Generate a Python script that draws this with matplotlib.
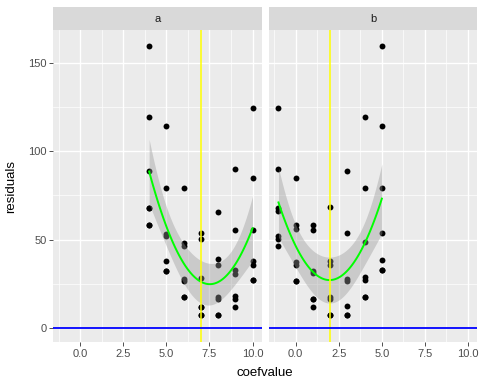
import numpy as np
import matplotlib
matplotlib.use("Agg")
from matplotlib import pyplot as plt

# data, one list pair per facet
# (7 runs per coefvalue; some points sit exactly on top of each other)
a_x = [4, 4, 4, 4, 4, 4, 4,
       5, 5, 5, 5, 5, 5, 5,
       6, 6, 6, 6, 6, 6, 6,
       7, 7, 7, 7, 7, 7, 7,
       8, 8, 8, 8, 8, 8, 8,
       9, 9, 9, 9, 9, 9, 9,
       10, 10, 10, 10, 10, 10, 10]
a_y = [159.5, 119.5, 88.9, 68.0, 68.0, 58.1, 58.1,
       114.4, 79.1, 53.2, 51.9, 38.0, 32.5, 32.5,
       79.1, 48.1, 46.2, 27.8, 26.5, 17.5, 17.5,
       53.8, 50.6, 28.4, 12.2, 12.2, 7.5, 7.5,
       65.4, 38.9, 35.9, 17.5, 16.3, 7.3, 7.3,
       90.0, 55.2, 33.1, 30.7, 18.0, 16.2, 12.1,
       124.2, 85.0, 55.2, 38.2, 35.9, 27.1, 27.1]

b_x = [-1, -1, -1, -1, -1, -1, -1,
       0, 0, 0, 0, 0, 0, 0,
       1, 1, 1, 1, 1, 1, 1,
       2, 2, 2, 2, 2, 2, 2,
       3, 3, 3, 3, 3, 3, 3,
       4, 4, 4, 4, 4, 4, 4,
       5, 5, 5, 5, 5, 5, 5]
b_y = [124.2, 90.0, 67.9, 66.0, 51.9, 50.6, 46.2,
       85.0, 58.5, 56.0, 37.4, 35.9, 26.5, 26.5,
       58.1, 55.5, 32.5, 31.2, 16.7, 16.7, 12.1,
       68.2, 38.2, 35.9, 17.5, 16.5, 7.3, 7.3,
       88.9, 53.6, 27.8, 26.5, 12.4, 7.5, 7.5,
       119.5, 79.1, 48.5, 28.7, 27.1, 17.7, 17.7,
       159.5, 114.4, 79.1, 53.6, 38.7, 33.1, 33.1]

facets = ["a", "b"]
vlines = [7, 2]
hline = 0

xticks = [0, 2.5, 5, 7.5, 10]
xticklabels = ["0.0", "2.5", "5.0", "7.5", "10.0"]
yticks = [0, 50, 100, 150]


def quad_fit(x, y, t=2.01):
    # y ~ poly(x, 2) with 95% band, like geom_smooth(method="lm")
    x = np.asarray(x, float)
    y = np.asarray(y, float)
    X = np.column_stack([np.ones_like(x), x, x ** 2])
    beta, res, rank, sv = np.linalg.lstsq(X, y, rcond=None)
    resid = y - X @ beta
    s2 = resid @ resid / (len(x) - 3)
    cov = s2 * np.linalg.inv(X.T @ X)
    xs = np.linspace(x.min(), x.max(), 80)
    Xs = np.column_stack([np.ones_like(xs), xs, xs ** 2])
    fit = Xs @ beta
    se = np.sqrt(np.einsum("ij,jk,ik->i", Xs, cov, Xs))
    return xs, fit, fit - t * se, fit + t * se


plt.rcParams["font.family"] = ["Liberation Sans", "DejaVu Sans"]
fig = plt.figure(figsize=(4.85, 3.88), dpi=100)

lefts = [53.5 / 485, 269 / 485]
width = 208.5 / 485
bottom = 45.7 / 388
height = 312.3 / 388
strip_h = 22.7 / 388

data = [(a_x, a_y), (b_x, b_y)]
for i, (xv, yv) in enumerate(data):
    ax = fig.add_axes([lefts[i], bottom, width, height])
    ax.set_facecolor("#EBEBEB")
    for sp in ax.spines.values():
        sp.set_visible(False)
    ax.set_xlim(-1.55, 10.55)
    ax.set_ylim(-8, 168.5)
    ax.set_xticks(xticks)
    ax.set_xticklabels(xticklabels)
    ax.set_xticks([-1.25, 1.25, 3.75, 6.25, 8.75], minor=True)
    ax.set_yticks(yticks)
    ax.set_yticks([25, 75, 125], minor=True)
    ax.grid(which="major", color="white", lw=1.0)
    ax.grid(which="minor", color="white", lw=0.5)
    ax.set_axisbelow(True)
    ax.tick_params(which="major", length=3, width=0.6, color="#333333",
                   labelsize=8, labelcolor="#4D4D4D", pad=2)
    ax.tick_params(which="minor", length=0)
    if i == 1:
        ax.tick_params(axis="y", which="major", length=0, labelleft=False)

    ax.scatter(xv, yv, s=18, color="black", zorder=2, linewidths=0)
    xs, fit, lo, hi = quad_fit(xv, yv)
    ax.fill_between(xs, lo, hi, color="#999999", alpha=0.4, lw=0, zorder=3)
    ax.plot(xs, fit, color="#00FF00", lw=1.4, zorder=4)
    ax.axvline(vlines[i], color="yellow", lw=1.1, zorder=5)
    ax.axhline(hline, color="blue", lw=1.3, zorder=5)

    sax = fig.add_axes([lefts[i], bottom + height, width, strip_h])
    sax.set_facecolor("#D9D9D9")
    sax.set_xticks([])
    sax.set_yticks([])
    for sp in sax.spines.values():
        sp.set_visible(False)
    sax.text(0.5, 0.5, facets[i], ha="center", va="center",
             fontsize=8, color="#1A1A1A", transform=sax.transAxes)

fig.text(265 / 485, 1 - 373 / 388, "coefvalue", ha="center", va="center",
         fontsize=9.5, color="black")
fig.text(11 / 485, bottom + height / 2, "residuals", ha="center", va="center",
         rotation=90, fontsize=9.5, color="black")

fig.savefig("out.png", dpi=100)
